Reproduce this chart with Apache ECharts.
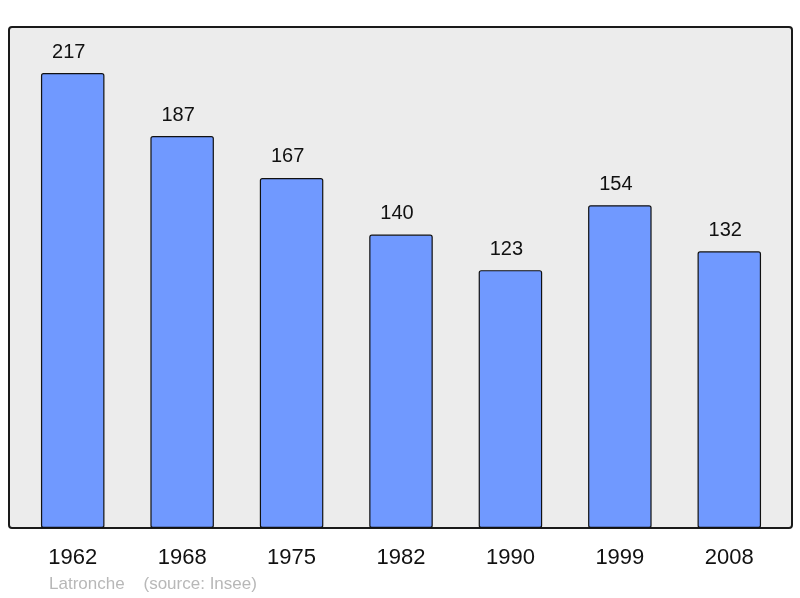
<!DOCTYPE html>
<html>
<head>
<meta charset="utf-8">
<script src="https://cdn.jsdelivr.net/npm/echarts@6/dist/echarts.min.js"></script>
<style>html,body{margin:0;padding:0;background:#fff}#c{width:800px;height:598px}</style>
</head>
<body>
<div id="c"></div>
<script>
const categories = ['1962', '1968', '1975', '1982', '1990', '1999', '2008'];
const population = [217, 187, 167, 140, 123, 154, 132];
const footerText = 'Latronche    (source: Insee)';

const chart = echarts.init(document.getElementById('c'), null, {renderer: 'canvas'});
chart.setOption({
  animation: false,
  backgroundColor: '#ffffff',
  grid: {left: 18, right: 16, top: 27, bottom: 70},
  graphic: [
    {type: 'rect', z: -10, shape: {x: 9, y: 27, width: 783, height: 501, r: 3},
     style: {fill: '#ececec', stroke: '#1a1a1a', lineWidth: 2}},
    {type: 'text', left: 49, top: 576, z: 10,
     style: {text: footerText, fill: '#b8b8b8', font: '17px "Liberation Sans", Arial, sans-serif'}}
  ],
  xAxis: {
    type: 'category',
    data: categories,
    axisLine: {show: false},
    axisTick: {show: false},
    axisLabel: {margin: 19, color: '#111', fontSize: 22, fontFamily: '"Liberation Sans", Arial, sans-serif'}
  },
  yAxis: {
    type: 'value', min: 0, max: 239,
    show: false, splitLine: {show: false}
  },
  series: [{
    type: 'bar',
    data: population,
    barWidth: 63.5,
    itemStyle: {color: '#7099ff', borderColor: '#111', borderWidth: 1.2, borderRadius: 2},
    label: {show: true, position: 'top', distance: 11, offset: [-4, 0], color: '#111', fontSize: 20,
            fontFamily: '"Liberation Sans", Arial, sans-serif'}
  }]
});
</script>
</body>
</html>
